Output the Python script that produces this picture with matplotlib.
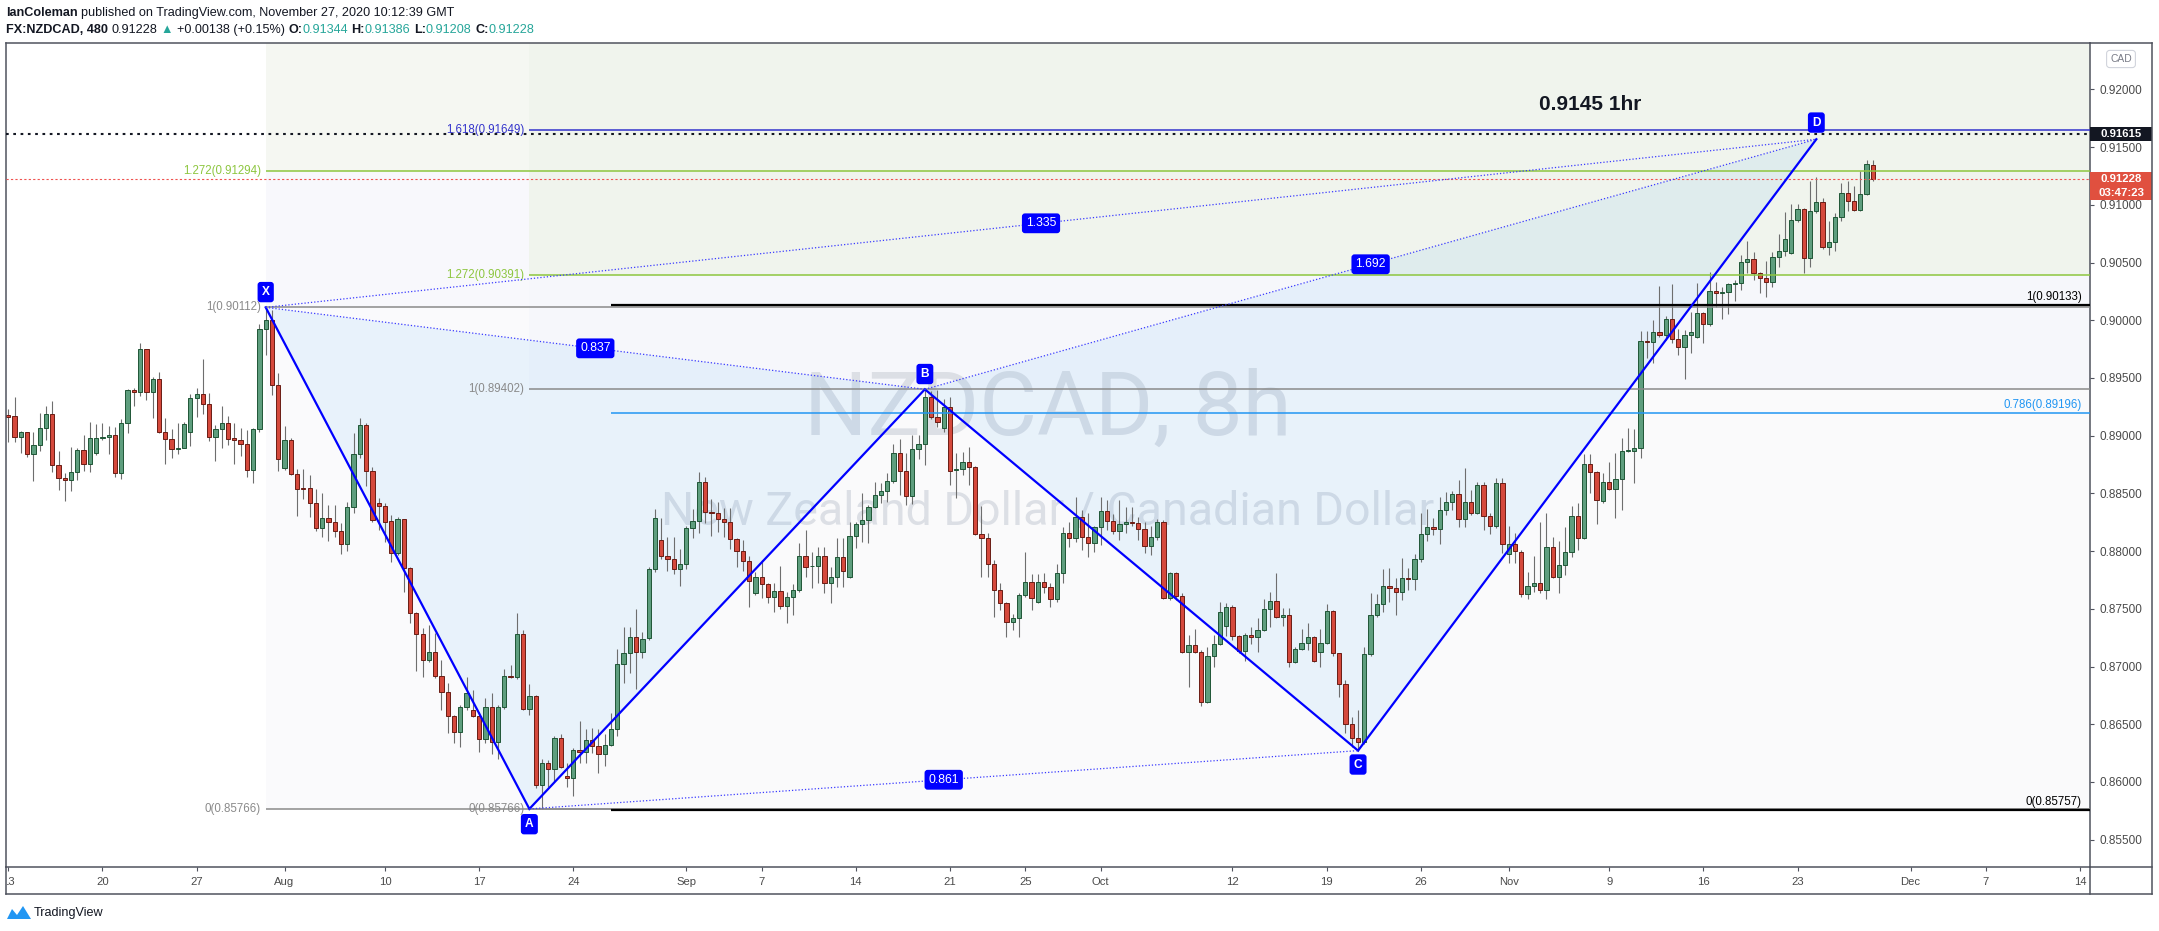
import matplotlib
matplotlib.use("Agg")
import matplotlib.pyplot as plt
from matplotlib.patches import Polygon, Rectangle
from matplotlib.transforms import Bbox, TransformedBbox, IdentityTransform
import pandas as pd

plt.rcParams['font.family'] = ['Liberation Sans', 'DejaVu Sans']

# ---- candles, FX:NZDCAD 480 min ----
opens = [0.89176, 0.89168, 0.88992, 0.89029, 0.88838, 0.88916, 0.89064, 0.89185, 0.88743, 0.88630,
         0.88613, 0.88682, 0.88873, 0.88752, 0.88847, 0.88977, 0.88986, 0.89003, 0.88674, 0.89107,
         0.89396, 0.89376, 0.89748, 0.89376, 0.89488, 0.89029, 0.88968, 0.88887, 0.88893, 0.89029,
         0.89324, 0.89358, 0.89272, 0.88992, 0.89055, 0.89107, 0.88977, 0.88960, 0.88925, 0.88700,
         0.89055, 0.89922, 0.90003, 0.89436, 0.88723, 0.88960, 0.88671, 0.88544, 0.88544, 0.88414,
         0.88197, 0.88284, 0.88249, 0.88174, 0.88059, 0.88385, 0.88839, 0.89090, 0.88691, 0.88414,
         0.88391, 0.88261, 0.87981, 0.88275, 0.87851, 0.87461, 0.87279, 0.87056, 0.87128, 0.86918,
         0.86782, 0.86571, 0.86432, 0.86652, 0.86623, 0.86571, 0.86372, 0.86646, 0.86343, 0.86646,
         0.86918, 0.86906, 0.87279, 0.86632, 0.86744, 0.85973, 0.86161, 0.86109, 0.86377, 0.86051,
         0.86031, 0.86276, 0.86256, 0.86363, 0.86311, 0.86239, 0.86317, 0.86455, 0.87019, 0.87114,
         0.87253, 0.87123, 0.87244, 0.87842, 0.88093, 0.87960, 0.87928, 0.87842, 0.87885, 0.88197,
         0.88258, 0.88596, 0.88341, 0.88327, 0.88275, 0.88249, 0.88102, 0.88003, 0.87911, 0.87634,
         0.87772, 0.87712, 0.87605, 0.87651, 0.87524, 0.87605, 0.87663, 0.87954, 0.87868, 0.87874,
         0.87960, 0.87720, 0.87778, 0.87946, 0.87772, 0.88133, 0.88232, 0.88269, 0.88379, 0.88486,
         0.88521, 0.88610, 0.88847, 0.88697, 0.88480, 0.88882, 0.88925, 0.89332, 0.89165, 0.89070,
         0.89252, 0.88703, 0.88708, 0.88775, 0.88726, 0.88145, 0.88110, 0.87885, 0.87660, 0.87547,
         0.87382, 0.87417, 0.87619, 0.87735, 0.87556, 0.87735, 0.87686, 0.87585, 0.87813, 0.88154,
         0.88110, 0.88298, 0.88119, 0.88067, 0.88206, 0.88347, 0.88263, 0.88174, 0.88235, 0.88255,
         0.88246, 0.88188, 0.88044, 0.88119, 0.88249, 0.87590, 0.87807, 0.87611, 0.87122, 0.87186,
         0.87122, 0.86689, 0.87091, 0.87192, 0.87351, 0.87512, 0.87264, 0.87137, 0.87273, 0.87252,
         0.87316, 0.87495, 0.87567, 0.87426, 0.87443, 0.87041, 0.87148, 0.87201, 0.87252, 0.87122,
         0.87201, 0.87481, 0.87114, 0.86845, 0.86500, 0.86380, 0.86350, 0.87105, 0.87446, 0.87541,
         0.87697, 0.87677, 0.87648, 0.87763, 0.87755, 0.87928, 0.88145, 0.88205, 0.88188, 0.88355,
         0.88428, 0.88491, 0.88275, 0.88428, 0.88327, 0.88569, 0.88306, 0.88217, 0.88587, 0.87971,
         0.88058, 0.87994, 0.87628, 0.87697, 0.87720, 0.87662, 0.88032, 0.87772, 0.87879, 0.87994,
         0.88304, 0.88110, 0.88751, 0.88682, 0.88434, 0.88595, 0.88535, 0.88621, 0.88870, 0.88870,
         0.88890, 0.89823, 0.89809, 0.89895, 0.89872, 0.90014, 0.89835, 0.89771, 0.89875, 0.89858,
         0.90066, 0.89965, 0.90257, 0.90233, 0.90242, 0.90314, 0.90320, 0.90508, 0.90528, 0.90407,
         0.90363, 0.90334, 0.90545, 0.90603, 0.90580, 0.90869, 0.90961, 0.90537, 0.90947, 0.91022,
         0.90632, 0.90675, 0.90892, 0.91100, 0.91034, 0.90956, 0.91091, 0.91344]
highs = [0.89228, 0.89338, 0.89043, 0.89035, 0.89032, 0.89194, 0.89257, 0.89304, 0.88867, 0.88674,
         0.88902, 0.88890, 0.89003, 0.89119, 0.89101, 0.89107, 0.89081, 0.89078, 0.89148, 0.89402,
         0.89410, 0.89800, 0.89755, 0.89506, 0.89549, 0.89150, 0.89058, 0.89107, 0.89121, 0.89361,
         0.89410, 0.89662, 0.89367, 0.89093, 0.89257, 0.89171, 0.89107, 0.89064, 0.89049, 0.89064,
         0.89968, 0.90112, 0.90090, 0.89540, 0.89084, 0.88977, 0.88709, 0.88709, 0.88660, 0.88535,
         0.88501, 0.88400, 0.88400, 0.88246, 0.88428, 0.89027, 0.89157, 0.89113, 0.88726, 0.88457,
         0.88414, 0.88313, 0.88299, 0.88280, 0.87865, 0.87470, 0.87337, 0.87360, 0.87293, 0.87056,
         0.86854, 0.86580, 0.86666, 0.86912, 0.86796, 0.86608, 0.86724, 0.86767, 0.86666, 0.86975,
         0.87013, 0.87467, 0.87316, 0.86848, 0.86753, 0.86195, 0.86190, 0.86397, 0.86415, 0.86161,
         0.86291, 0.86530, 0.86455, 0.86464, 0.86455, 0.86415, 0.86600, 0.87150, 0.87345, 0.87339,
         0.87495, 0.87302, 0.87865, 0.88365, 0.88284, 0.88119, 0.88119, 0.88015, 0.88220, 0.88362,
         0.88682, 0.88639, 0.88451, 0.88422, 0.88370, 0.88370, 0.88110, 0.88096, 0.87957, 0.87816,
         0.87923, 0.87720, 0.87726, 0.87871, 0.87642, 0.87715, 0.88073, 0.88183, 0.87995, 0.88032,
         0.88038, 0.87865, 0.88110, 0.88110, 0.88249, 0.88249, 0.88500, 0.88399, 0.88596, 0.88593,
         0.88679, 0.88928, 0.88968, 0.88853, 0.89006, 0.89006, 0.89402, 0.89390, 0.89396, 0.89315,
         0.89332, 0.88847, 0.88856, 0.88899, 0.88737, 0.88391, 0.88160, 0.87923, 0.87720, 0.87560,
         0.87455, 0.87634, 0.87989, 0.87801, 0.87801, 0.87813, 0.87720, 0.87888, 0.88211, 0.88255,
         0.88472, 0.88356, 0.88333, 0.88217, 0.88466, 0.88443, 0.88321, 0.88443, 0.88379, 0.88379,
         0.88298, 0.88255, 0.88217, 0.88275, 0.88269, 0.87821, 0.87821, 0.87634, 0.87273, 0.87325,
         0.87143, 0.87172, 0.87273, 0.87561, 0.87547, 0.87533, 0.87273, 0.87293, 0.87345, 0.87423,
         0.87585, 0.87648, 0.87807, 0.87504, 0.87504, 0.87172, 0.87322, 0.87380, 0.87264, 0.87325,
         0.87541, 0.87490, 0.87120, 0.86880, 0.86560, 0.86623, 0.87172, 0.87634, 0.87628, 0.87845,
         0.87850, 0.87764, 0.87937, 0.87850, 0.87974, 0.88327, 0.88361, 0.88283, 0.88471, 0.88514,
         0.88520, 0.88616, 0.88717, 0.88529, 0.88601, 0.88601, 0.88327, 0.88630, 0.88630, 0.88217,
         0.88153, 0.88009, 0.87821, 0.87957, 0.88254, 0.88327, 0.88124, 0.88090, 0.88211, 0.88390,
         0.88413, 0.88841, 0.88841, 0.88696, 0.88673, 0.88774, 0.88852, 0.88977, 0.89063, 0.89058,
         0.89907, 0.89907, 0.90002, 0.90297, 0.90037, 0.90314, 0.89921, 0.89916, 0.90074, 0.90320,
         0.90074, 0.90421, 0.90334, 0.90291, 0.90320, 0.90349, 0.90566, 0.90687, 0.90594, 0.90421,
         0.90514, 0.90594, 0.90748, 0.90941, 0.91008, 0.91008, 0.90970, 0.91207, 0.91239, 0.91057,
         0.90863, 0.90933, 0.91193, 0.91207, 0.91164, 0.91294, 0.91389, 0.91386]
lows = [0.88948, 0.88948, 0.88847, 0.88818, 0.88607, 0.88870, 0.88963, 0.88685, 0.88529, 0.88437,
        0.88523, 0.88616, 0.88697, 0.88688, 0.88833, 0.88963, 0.88841, 0.88645, 0.88628, 0.89026,
        0.89257, 0.89344, 0.89309, 0.89156, 0.89020, 0.88758, 0.88809, 0.88841, 0.88890, 0.88911,
        0.89165, 0.89185, 0.88957, 0.88784, 0.88890, 0.88919, 0.88755, 0.88824, 0.88645, 0.88593,
        0.89035, 0.89699, 0.89353, 0.88697, 0.88703, 0.88659, 0.88307, 0.88449, 0.88299, 0.88177,
        0.88119, 0.88090, 0.88125, 0.87972, 0.88004, 0.88333, 0.88804, 0.88564, 0.88255, 0.88183,
        0.88082, 0.87903, 0.87966, 0.87648, 0.87380, 0.86964, 0.86906, 0.87042, 0.86897, 0.86623,
        0.86426, 0.86334, 0.86299, 0.86623, 0.86565, 0.86256, 0.86334, 0.86242, 0.86198, 0.86629,
        0.86897, 0.86889, 0.86623, 0.86580, 0.85944, 0.85766, 0.85958, 0.86002, 0.86117, 0.85953,
        0.85880, 0.86161, 0.86166, 0.86253, 0.86080, 0.86137, 0.86310, 0.86400, 0.86860, 0.86941,
        0.86802, 0.87071, 0.87229, 0.87821, 0.87928, 0.87830, 0.87801, 0.87700, 0.87842, 0.88110,
        0.88154, 0.88246, 0.88133, 0.88168, 0.88125, 0.88015, 0.87865, 0.87830, 0.87518, 0.87620,
        0.87590, 0.87547, 0.87475, 0.87495, 0.87379, 0.87446, 0.87648, 0.87778, 0.87683, 0.87720,
        0.87634, 0.87547, 0.87692, 0.87692, 0.87764, 0.88024, 0.88081, 0.88067, 0.88370, 0.88414,
        0.88428, 0.88593, 0.88486, 0.88399, 0.88408, 0.88798, 0.88746, 0.89142, 0.89078, 0.89035,
        0.88573, 0.88457, 0.88659, 0.88573, 0.88139, 0.87778, 0.87778, 0.87426, 0.87489, 0.87252,
        0.87316, 0.87252, 0.87605, 0.87489, 0.87547, 0.87634, 0.87518, 0.87561, 0.87726, 0.88038,
        0.88081, 0.88009, 0.87946, 0.87995, 0.88053, 0.88183, 0.88148, 0.88096, 0.88154, 0.88217,
        0.88096, 0.87986, 0.87966, 0.88096, 0.87585, 0.87576, 0.87576, 0.87114, 0.86819, 0.87114,
        0.86660, 0.86680, 0.86998, 0.87186, 0.87264, 0.87229, 0.87114, 0.87050, 0.87195, 0.87128,
        0.87307, 0.87345, 0.87417, 0.87351, 0.86992, 0.87033, 0.87143, 0.87143, 0.87041, 0.86998,
        0.87192, 0.87091, 0.86732, 0.86420, 0.86300, 0.86271, 0.86330, 0.87091, 0.87432, 0.87475,
        0.87561, 0.87446, 0.87576, 0.87663, 0.87662, 0.87908, 0.88090, 0.88139, 0.88058, 0.88312,
        0.88355, 0.88205, 0.88205, 0.88312, 0.88321, 0.88182, 0.88147, 0.88197, 0.87980, 0.87893,
        0.87899, 0.87599, 0.87581, 0.87648, 0.87633, 0.87581, 0.87763, 0.87633, 0.87792, 0.87945,
        0.88009, 0.88105, 0.88500, 0.88231, 0.88419, 0.88529, 0.88283, 0.88355, 0.88860, 0.88587,
        0.88803, 0.89676, 0.89627, 0.89858, 0.89829, 0.89800, 0.89699, 0.89488, 0.89719, 0.89843,
        0.89806, 0.89950, 0.90118, 0.90008, 0.90054, 0.90170, 0.90262, 0.90407, 0.90349, 0.90239,
        0.90205, 0.90285, 0.90459, 0.90557, 0.90574, 0.90855, 0.90407, 0.90464, 0.90927, 0.90615,
        0.90568, 0.90603, 0.90863, 0.90950, 0.90950, 0.90950, 0.91086, 0.91208]
closes = [0.89165, 0.88992, 0.89029, 0.88838, 0.88916, 0.89064, 0.89185, 0.88743, 0.88630, 0.88613,
          0.88682, 0.88873, 0.88752, 0.88977, 0.88977, 0.88986, 0.89003, 0.88674, 0.89107, 0.89393,
          0.89376, 0.89748, 0.89376, 0.89488, 0.89029, 0.88968, 0.88887, 0.88893, 0.89098, 0.89324,
          0.89358, 0.89272, 0.88992, 0.89055, 0.89107, 0.88974, 0.88960, 0.88925, 0.88700, 0.89055,
          0.89922, 0.90003, 0.89436, 0.88801, 0.88960, 0.88671, 0.88541, 0.88541, 0.88414, 0.88197,
          0.88284, 0.88249, 0.88174, 0.88059, 0.88385, 0.88839, 0.89090, 0.88691, 0.88270, 0.88391,
          0.88255, 0.87981, 0.88275, 0.87851, 0.87461, 0.87279, 0.87056, 0.87128, 0.86918, 0.86782,
          0.86571, 0.86432, 0.86652, 0.86767, 0.86571, 0.86372, 0.86646, 0.86343, 0.86646, 0.86918,
          0.86906, 0.87279, 0.86632, 0.86744, 0.85973, 0.86161, 0.86109, 0.86377, 0.86126, 0.86031,
          0.86276, 0.86256, 0.86363, 0.86311, 0.86239, 0.86317, 0.86455, 0.87019, 0.87114, 0.87253,
          0.87123, 0.87241, 0.87842, 0.88284, 0.87960, 0.87928, 0.87842, 0.87885, 0.88197, 0.88258,
          0.88596, 0.88341, 0.88327, 0.88275, 0.88249, 0.88102, 0.88003, 0.87911, 0.87738, 0.87772,
          0.87712, 0.87605, 0.87651, 0.87524, 0.87605, 0.87663, 0.87954, 0.87865, 0.87874, 0.87960,
          0.87720, 0.87778, 0.87946, 0.87830, 0.88133, 0.88232, 0.88269, 0.88379, 0.88486, 0.88521,
          0.88610, 0.88847, 0.88697, 0.88480, 0.88882, 0.88925, 0.89332, 0.89165, 0.89116, 0.89252,
          0.88697, 0.88708, 0.88775, 0.88726, 0.88145, 0.88110, 0.87885, 0.87660, 0.87547, 0.87382,
          0.87417, 0.87619, 0.87735, 0.87590, 0.87735, 0.87686, 0.87585, 0.87813, 0.88154, 0.88110,
          0.88298, 0.88119, 0.88067, 0.88206, 0.88347, 0.88263, 0.88174, 0.88235, 0.88255, 0.88246,
          0.88188, 0.88044, 0.88119, 0.88249, 0.87590, 0.87807, 0.87611, 0.87122, 0.87186, 0.87122,
          0.86689, 0.87091, 0.87192, 0.87475, 0.87512, 0.87264, 0.87137, 0.87273, 0.87252, 0.87316,
          0.87495, 0.87567, 0.87426, 0.87443, 0.87041, 0.87148, 0.87201, 0.87252, 0.87047, 0.87201,
          0.87481, 0.87114, 0.86845, 0.86500, 0.86380, 0.86350, 0.87105, 0.87446, 0.87541, 0.87697,
          0.87677, 0.87648, 0.87763, 0.87755, 0.87928, 0.88145, 0.88205, 0.88188, 0.88355, 0.88428,
          0.88491, 0.88275, 0.88428, 0.88327, 0.88569, 0.88306, 0.88217, 0.88587, 0.88058, 0.88058,
          0.88000, 0.87628, 0.87697, 0.87720, 0.87662, 0.88032, 0.87772, 0.87879, 0.87994, 0.88304,
          0.88110, 0.88751, 0.88682, 0.88442, 0.88595, 0.88535, 0.88621, 0.88870, 0.88876, 0.88890,
          0.89823, 0.89809, 0.89895, 0.89872, 0.90014, 0.89835, 0.89771, 0.89875, 0.89901, 0.90066,
          0.89965, 0.90257, 0.90233, 0.90242, 0.90314, 0.90320, 0.90508, 0.90528, 0.90407, 0.90363,
          0.90334, 0.90545, 0.90603, 0.90701, 0.90869, 0.90961, 0.90537, 0.90947, 0.91022, 0.90632,
          0.90675, 0.90892, 0.91100, 0.91034, 0.90956, 0.91091, 0.91351, 0.91228]

tick_dates = ['2020-07-13', '2020-07-20', '2020-07-27', '2020-08-01', '2020-08-10', '2020-08-17',
              '2020-08-24', '2020-09-01', '2020-09-07', '2020-09-14', '2020-09-21', '2020-09-25',
              '2020-10-01', '2020-10-12', '2020-10-19', '2020-10-26', '2020-11-01', '2020-11-09',
              '2020-11-16', '2020-11-23', '2020-12-01', '2020-12-07', '2020-12-14']
tick_labels = ['13', '20', '27', 'Aug', '10', '17', '24', 'Sep', '7', '14', '21', '25', 'Oct',
               '12', '19', '26', 'Nov', '9', '16', '23', 'Dec', '7', '14']
price_ticks = [0.855, 0.860, 0.865, 0.870, 0.875, 0.880, 0.885, 0.890, 0.895, 0.900, 0.905, 0.910, 0.915, 0.920]

# XABCD pattern (bar index, price)
pattern_names = ['X', 'A', 'B', 'C', 'D']
pattern_bars = [41, 83, 146, 215, 288]
pattern_prices = [0.90112, 0.85766, 0.89402, 0.86271, 0.91569]
ratio_legs = [('X', 'B', '0.837'), ('X', 'D', '1.335'), ('B', 'D', '1.692'), ('A', 'C', '0.861')]

# fib tools: start bar, levels, prices
fib_xa_start, fib_xa_levels, fib_xa_prices = 41, [0, 1, 1.272], [0.85766, 0.90112, 0.91294]
fib_ab_start, fib_ab_levels, fib_ab_prices = 83, [0, 1, 1.272, 1.618], [0.85766, 0.89402, 0.90391, 0.91649]
fib_box_start, fib_box_levels, fib_box_prices = 96, [0, 0.786, 1], [0.85757, 0.89196, 0.90133]

alert_price = 0.91615
last_price = 0.91228
countdown = '03:47:23'


# 8h FX sessions: Sun 21h, Mon-Thu 5/13/21h, Fri 5/13h
def session_bars(first, last):
    out = []
    for d in pd.date_range(first, last, freq='D'):
        wd = d.weekday()
        hrs = [21] if wd == 6 else [5, 13, 21] if wd <= 3 else [5, 13] if wd == 4 else []
        out += [d + pd.Timedelta(hours=h) for h in hrs]
    return pd.DatetimeIndex(out)


bars = session_bars('2020-07-13', '2020-12-20')
tick_pos = bars.searchsorted(pd.to_datetime(tick_dates))

W, H, DPI = 2159, 931, 100
X0, X1, Y0, Y1 = 6, 2090, 43, 867          # plot box in pixels
XL = (-0.366, 331.59)
YL = (0.852626, 0.924029)
PPP = (Y1 - Y0) / (YL[1] - YL[0])          # pixels per price unit
SMALL = 8.3

fig = plt.figure(figsize=(W / DPI, H / DPI), dpi=DPI)
fig.patch.set_facecolor('white')
ax = fig.add_axes([X0 / W, 1 - Y1 / H, (X1 - X0) / W, (Y1 - Y0) / H])
ax.set_xlim(*XL)
ax.set_ylim(*YL)
ax.set_facecolor('white')
RIGHT = XL[1] + 1


def band(x0, y0, y1, color):
    ax.add_patch(Rectangle((x0, y0), RIGHT - x0, y1 - y0, facecolor=color, edgecolor='none', zorder=0.3))


# fib backgrounds
band(fib_xa_start, fib_xa_prices[0], fib_xa_prices[1], '#fafafc')
band(fib_xa_start, fib_xa_prices[1], fib_xa_prices[2], '#f8f8fc')
band(fib_xa_start, fib_xa_prices[2], YL[1] + 0.01, '#f5f7f2')
band(fib_ab_start, fib_ab_prices[0], fib_ab_prices[1], '#fafafb')
band(fib_ab_start, fib_ab_prices[1], fib_ab_prices[2], '#f6f7fb')
band(fib_ab_start, fib_ab_prices[2], YL[1] + 0.01, '#f0f4ed')

# watermark
ax.text(0.5, 0.5546, 'NZDCAD, 8h', transform=ax.transAxes, ha='center', va='center',
        fontsize=64, color='#dcdfe5', family=['Roboto', 'DejaVu Sans'], zorder=0.6)
ax.text(0.5, 0.4308, 'New Zealand Dollar / Canadian Dollar', transform=ax.transAxes, ha='center',
        va='center', fontsize=33.5, color='#dcdfe5', family=['Roboto', 'DejaVu Sans'], zorder=0.6)

# pattern fills
pts = dict(zip(pattern_names, zip(pattern_bars, pattern_prices)))
for tri in (('X', 'A', 'B'), ('B', 'C', 'D')):
    ax.add_patch(Polygon([pts[n] for n in tri], closed=True, facecolor='#2196f3', alpha=0.08,
                         edgecolor='none', zorder=1))

# candles
idx = list(range(len(opens)))
ax.vlines(idx, lows, highs, color='#6e6e6e', linewidth=0.8, zorder=2)
up = [c >= o for o, c in zip(opens, closes)]
bottoms = [min(o, c) for o, c in zip(opens, closes)]
heights = [max(abs(c - o), 0.00006) for o, c in zip(opens, closes)]
ax.bar(idx, heights, bottom=bottoms, width=0.68,
       color=['#5e9e7e' if u else '#d5493c' for u in up],
       edgecolor=['#1f5636' if u else '#6a1c14' for u in up], linewidth=0.7, zorder=2.2)


def hline(x0, price, color, lw, ls='-'):
    ax.plot([x0, RIGHT], [price, price], color=color, linewidth=lw, linestyle=ls, zorder=3,
            solid_capstyle='butt')


def level_color(lvl):
    return {1.272: '#8dc63f', 1.618: '#3434cc'}.get(lvl, '#8a8a8a')


for start, levels, prices in ((fib_xa_start, fib_xa_levels, fib_xa_prices),
                              (fib_ab_start, fib_ab_levels, fib_ab_prices)):
    for lvl, p in zip(levels, prices):
        col = level_color(lvl)
        hline(start, p, col, 1.1)
        ax.annotate(f'{lvl:g}({p:.5f})', xy=(start, p), xytext=(-3.5, 0), textcoords='offset points',
                    ha='right', va='center', fontsize=SMALL, color=col, zorder=4)

for lvl, p in zip(fib_box_levels, fib_box_prices):
    col = '#2196f3' if lvl == 0.786 else '#000000'
    hline(fib_box_start, p, col, 1.1 if lvl == 0.786 else 1.6)
    ax.annotate(f'{lvl:g}({p:.5f})', xy=(1.0, p), xycoords=('axes fraction', 'data'), xytext=(-6, 1.5),
                textcoords='offset points', ha='right', va='bottom', fontsize=SMALL, color=col, zorder=4)

# alert line and last price line
ax.axhline(alert_price, color='#131722', linewidth=1.5, linestyle=(0, (1.3, 2.2)), zorder=3)
ax.axhline(last_price, color='#ef5350', linewidth=0.8, linestyle=(0, (2, 2)), zorder=3)

# pattern legs
px = [pts[n][0] for n in pattern_names]
py = [pts[n][1] for n in pattern_names]
ax.plot(px, py, color='#0000ff', linewidth=1.6, zorder=5, solid_joinstyle='miter')
for a, b, txt in ratio_legs:
    ax.plot([pts[a][0], pts[b][0]], [pts[a][1], pts[b][1]], color='#3a3aff', linewidth=0.9,
            linestyle=(0, (1, 1.6)), zorder=5)
    ax.text((pts[a][0] + pts[b][0]) / 2, (pts[a][1] + pts[b][1]) / 2, txt, ha='center', va='center',
            fontsize=8.8, color='white', zorder=6,
            bbox=dict(boxstyle='round,pad=0.32,rounding_size=0.25', fc='#0000ff', ec='none'))
for n, dy in zip(pattern_names, [11, -11, 11, -10, 12]):
    ax.annotate(n, xy=pts[n], xytext=(0, dy), textcoords='offset points', ha='center', va='center',
                fontsize=8.6, fontweight='bold', color='white', zorder=6,
                bbox=dict(boxstyle='round,pad=0.35,rounding_size=0.25', fc='#0000ff', ec='none'))

# axes, ticks
for s in ax.spines.values():
    s.set_color('#50535e')
    s.set_linewidth(1.1)
ax.set_xticks(tick_pos)
ax.set_xticklabels(tick_labels)
ax.set_yticks(price_ticks)
ax.set_yticklabels([f'{p:.5f}' for p in price_ticks])
ax.yaxis.tick_right()
ax.tick_params(axis='x', direction='out', length=3, width=0.8, color='#50535e', labelsize=8.1,
               labelcolor='#4a4a4a', pad=4)
ax.tick_params(axis='y', direction='out', length=3, width=0.8, color='#50535e', labelsize=8.5,
               labelcolor='#4a4a4a', pad=4)
clip = TransformedBbox(Bbox([[X0 + 1, 0], [2152, H]]), IdentityTransform())
for lbl in ax.get_xticklabels():
    lbl.set_clip_box(clip)
    lbl.set_clip_on(True)

ytr = ax.get_yaxis_transform()
box_w = 62 / (X1 - X0)


def price_box(price, text, color, shift=0.0):
    h = 14 / PPP
    ax.add_patch(Rectangle((1.0, price - shift - h / 2), box_w, h, transform=ytr, facecolor=color,
                           edgecolor='none', clip_on=False, zorder=8))
    ax.text(1.0 + box_w / 2, price - shift, text, transform=ytr, ha='center', va='center', color='white',
            fontsize=8.2, fontweight='bold', clip_on=False, zorder=9)


price_box(alert_price, f'{alert_price:.5f}', '#131722')
price_box(last_price, f'{last_price:.5f}', '#e0503f')
price_box(last_price, countdown, '#e0503f', shift=14.5 / PPP)

# pixel overlay for frame, header, logo
fx = fig.add_axes([0, 0, 1, 1], zorder=5)
fx.set_xlim(0, W)
fx.set_ylim(H, 0)
fx.axis('off')
fx.patch.set_alpha(0)
fc = '#50535e'
for xs, ys in (([X1, 2152], [Y0, Y0]), ([2152, 2152], [Y0, 894]), ([X0, 2152], [894, 894]),
               ([X1, 2152], [Y1, Y1]), ([X1, X1], [Y1, 894]), ([X0, X0], [Y1, 894])):
    fx.plot(xs, ys, color=fc, linewidth=1.1, solid_capstyle='projecting')

fx.text(2121, 59, 'CAD', ha='center', va='center', fontsize=7.4, color='#787b86',
        bbox=dict(boxstyle='round,pad=0.35,rounding_size=0.3', fc='white', ec='#d1d4dc', lw=0.8))
fx.text(1590, 105, '0.9145 1hr', ha='center', va='center', fontsize=15, fontweight='bold', color='#131722')

renderer = fig.canvas.get_renderer()


def chain(pieces, x, y, size=9.1):
    for s, col, bold in pieces:
        if s == ' ':
            x += 3.5
            continue
        t = fx.text(x, y, s, ha='left', va='center', fontsize=size, color=col,
                    fontweight='bold' if bold else 'normal')
        x += t.get_window_extent(renderer=renderer).width


ink, teal = '#131722', '#26a69a'
chain([('IanColeman', ink, True), (' ', 0, 0),
       ('published on TradingView.com, November 27, 2020 10:12:39 GMT', ink, False)], 6, 13)
chain([('FX:NZDCAD, 480', ink, True), (' ', 0, 0), ('0.91228', ink, False), (' ', 0, 0),
       ('▲', teal, False), (' ', 0, 0), ('+0.00138 (+0.15%)', ink, False), (' ', 0, 0),
       ('O:', ink, True), ('0.91344', teal, False), (' ', 0, 0), ('H:', ink, True), ('0.91386', teal, False),
       (' ', 0, 0), ('L:', ink, True), ('0.91208', teal, False), (' ', 0, 0), ('C:', ink, True),
       ('0.91228', teal, False)], 6, 30)

fx.add_patch(Polygon([(7, 919), (12, 909), (17, 915), (23, 906), (31, 919)], closed=True,
                     facecolor='#2196f3', edgecolor='none'))
fx.text(34, 913, 'TradingView', ha='left', va='center', fontsize=9.1, color=ink)

fig.savefig('out.png', dpi=DPI, facecolor='white')
